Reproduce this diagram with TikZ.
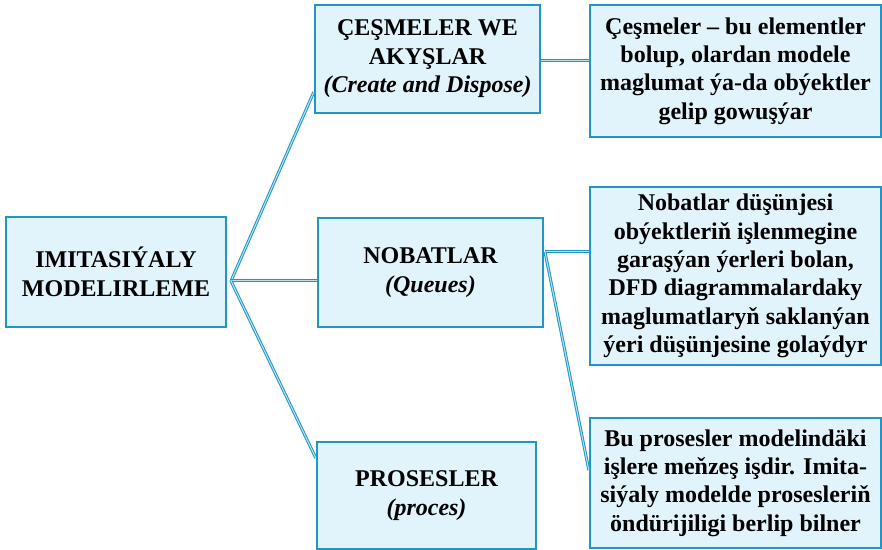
\documentclass[tikz,border=0pt]{standalone}
\usepackage{fontspec}
\setmainfont{Liberation Serif}
\definecolor{boxblue}{HTML}{2196C4}
\definecolor{boxfill}{HTML}{E1F3FB}
\definecolor{linkfill}{HTML}{B8E2F2}

\begin{document}
\begin{tikzpicture}[x=0.5pt,y=-0.5pt,
	box/.style={draw=boxblue,line width=1.2pt,fill=boxfill,align=center,inner sep=0pt,
		font=\fontsize{12}{14.2}\selectfont\bfseries},
	link/.style={draw=boxblue,line width=0.5pt,double=linkfill,double distance=0.5pt}]
	\useasboundingbox (0,0) rectangle (882,550);
	% branches
	\coordinate (fork) at (231,281);
	\coordinate (nobout) at (545,252);
	\node[box,minimum width=110pt,minimum height=55pt] (root) at (116,272) {IMITASIÝALY\\MODELIRLEME};
	\node[box,minimum width=112.5pt,minimum height=54pt] (ces) at (427.5,59) {ÇEŞMELER WE\\AKYŞLAR\\\textit{(Create and Dispose)}};
	\node[box,minimum width=112.5pt,minimum height=54.5pt] (nob) at (430.5,272.5) {NOBATLAR\\\textit{(Queues)}};
	\node[box,minimum width=109.5pt,minimum height=53.5pt] (pro) at (426.5,495.5) {PROSESLER\\\textit{(proces)}};
	\node[box,minimum width=145.5pt,minimum height=66pt] (cesinfo) at (735.5,71) {Çeşmeler -- bu elementler\\bolup, olardan modele\\maglumat ýa-da obýektler\\gelip gowuşýar};
	\node[box,minimum width=145.5pt,minimum height=89pt] (nobinfo) at (735.5,276) {Nobatlar düşünjesi\\obýektleriň işlenmegine\\garaşýan ýerleri bolan,\\DFD diagrammalardaky\\maglumatlaryň saklanýan\\ýeri düşünjesine golaýdyr};
	\node[box,minimum width=145.5pt,minimum height=65pt] (proinfo) at (735.5,483) {Bu prosesler modelindäki\\işlere meňzeş işdir. Imita-\\siýaly modelde prosesleriň\\öndürijiligi berlip bilner};
	\draw[link] (fork) -- ([yshift=-16.5pt]ces.west);
	\draw[link] (fork) -- (fork -| nob.west);
	\draw[link] (fork) -- ([yshift=18.75pt]pro.west);
	\draw[link] ([yshift=-1pt]ces.east) -- ([yshift=-1pt]ces.east -| cesinfo.west);
	\draw[link] (nobout) -- (nobout -| nobinfo.west);
	\draw[link] (nobout) -- ([yshift=6.5pt]proinfo.west);
\end{tikzpicture}
\end{document}
